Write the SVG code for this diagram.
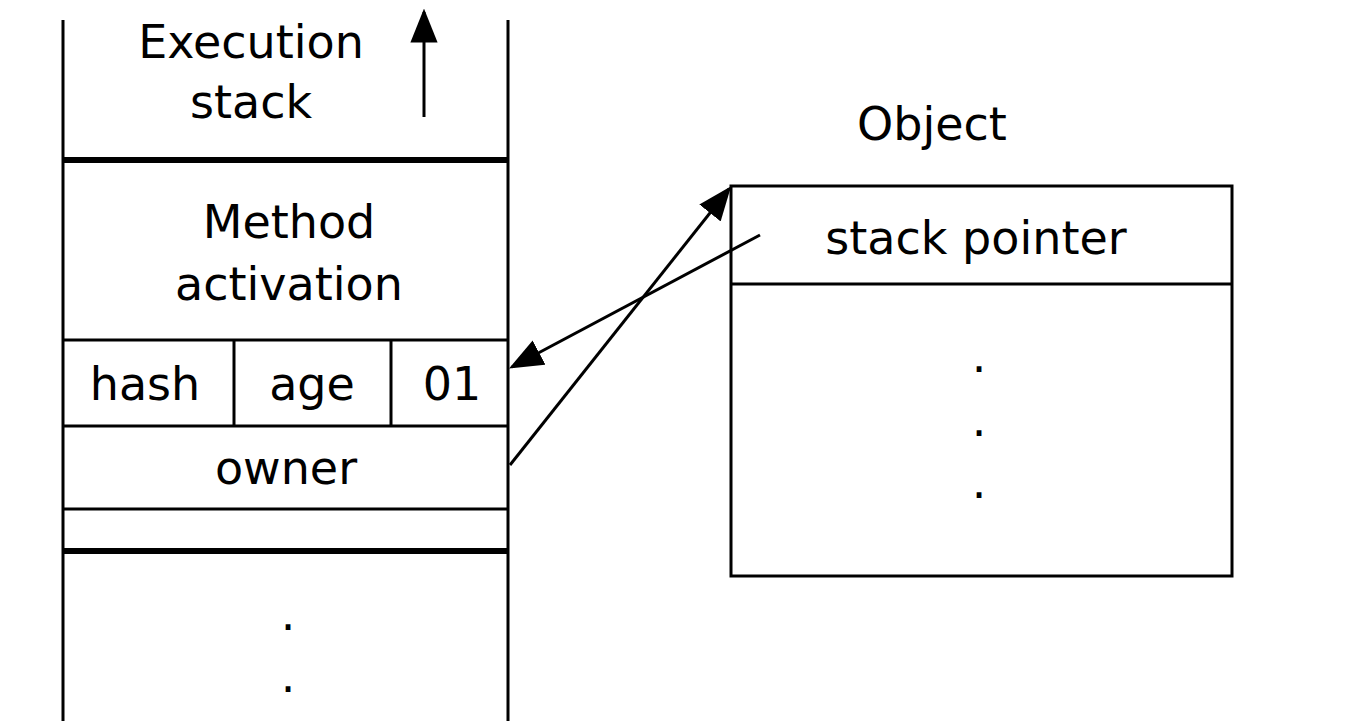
<svg xmlns="http://www.w3.org/2000/svg" width="1346" height="721" viewBox="0 0 1346 721">
<style>
text{font-family:"DejaVu Sans",sans-serif;font-size:46px;fill:#000;text-anchor:middle}
.l{stroke:#000;stroke-width:3;fill:none}
.t{stroke:#000;stroke-width:6;fill:none}
</style>
<defs>
<marker id="b" viewBox="0 0 10 8" refX="9" refY="4" markerWidth="34" markerHeight="28" orient="auto" markerUnits="userSpaceOnUse"><path d="M0,0L10,4L0,8z"/></marker></defs>
<rect width="1346" height="721" fill="#fff"/>
<g id="stack">
<line class="l" x1="63" y1="20" x2="63" y2="721"/>
<line class="l" x1="508" y1="20" x2="508" y2="721"/>
<line class="t" x1="63" y1="160" x2="508" y2="160"/>
<line class="l" x1="63" y1="340" x2="508" y2="340"/>
<line class="l" x1="63" y1="426" x2="508" y2="426"/>
<line class="l" x1="63" y1="509" x2="508" y2="509"/>
<line class="t" x1="63" y1="551" x2="508" y2="551"/>
<line class="l" x1="234" y1="340" x2="234" y2="426"/>
<line class="l" x1="391" y1="340" x2="391" y2="426"/>
<text x="251" y="58">Execution</text>
<text x="251" y="118">stack</text>
<text x="289" y="238">Method</text>
<text x="289" y="300">activation</text>
<text x="145" y="400">hash</text>
<text x="312" y="400">age</text>
<text x="452" y="400">01</text>
<text x="286" y="484">owner</text>
<text x="288" y="630">.</text>
<text x="288" y="692">.</text>
</g>
<g id="object">
<text x="932" y="140">Object</text>
<rect class="l" x="731" y="186" width="501" height="390"/>
<line class="l" x1="731" y1="284" x2="1232" y2="284"/>
<text x="976" y="254">stack pointer</text>
<text x="979" y="372">.</text>
<text x="979" y="436">.</text>
<text x="979" y="498">.</text>
</g>
<g id="connectors">
<line class="l" x1="424" y1="117" x2="424" y2="12" marker-end="url(#b)"/>
<line class="l" x1="760" y1="235" x2="512" y2="367" marker-end="url(#b)"/>
<line class="l" x1="510" y1="465" x2="729" y2="189" marker-end="url(#b)"/>
</g>
</svg>
